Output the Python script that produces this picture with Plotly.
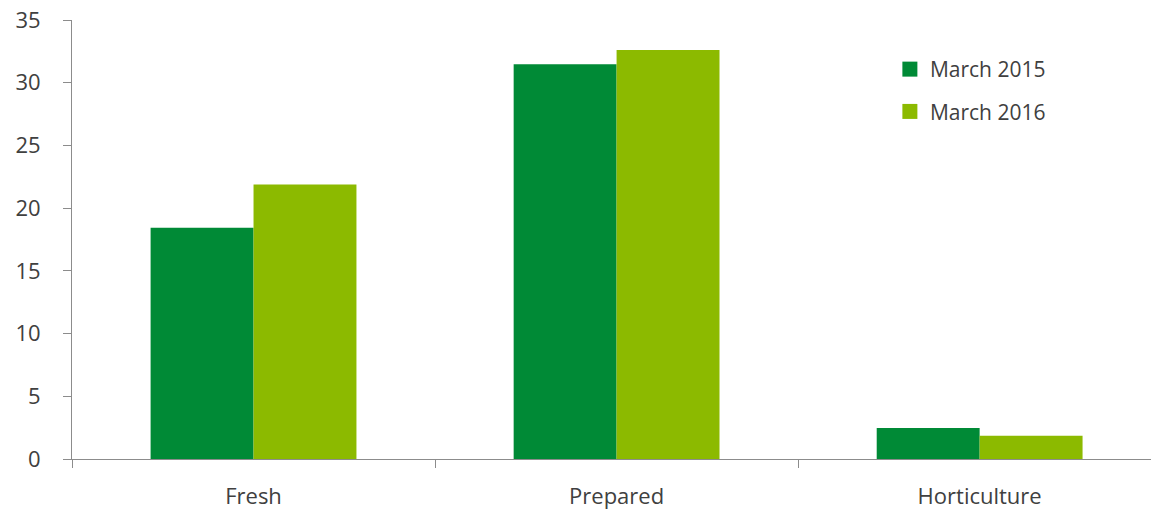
import plotly.graph_objects as go

categories = ["Fresh", "Prepared", "Horticulture"]
series_names = ["March 2015", "March 2016"]
march_2015 = [18.43, 31.47, 2.47]
march_2016 = [21.89, 32.61, 1.86]
y_ticks = [0, 5, 10, 15, 20, 25, 30, 35]

DARK_GREEN = "#008a36"
LIGHT_GREEN = "#8cba00"
AXIS_GREY = "#8c8c8c"
TEXT = "#404040"
FONT = "Open Sans, Noto Sans, sans-serif"

fig = go.Figure()
for name, values, color in zip(series_names, [march_2015, march_2016],
                               [DARK_GREEN, LIGHT_GREEN]):
    fig.add_trace(go.Bar(name=name, x=categories, y=values,
                         marker=dict(color=color, line=dict(width=0)),
                         legendgroup=name, showlegend=False))
    # square swatch for the legend entry
    fig.add_trace(go.Scatter(name=name, x=[None], y=[None], mode="markers",
                             marker=dict(symbol="square", size=15, color=color),
                             legendgroup=name, showlegend=True))

fig.update_layout(
    width=1151, height=510,
    margin=dict(l=72, r=0, t=20, b=51),
    paper_bgcolor="white", plot_bgcolor="white",
    barmode="group", bargap=0.433, bargroupgap=0,
    font=dict(family=FONT, size=22, color=TEXT),
    legend=dict(x=0.758, y=0.934, xanchor="left", yanchor="top",
                bgcolor="rgba(0,0,0,0)", font=dict(size=21, color=TEXT),
                itemwidth=30, tracegroupgap=12),
)
fig.update_xaxes(
    type="category", range=[-0.5, 2.472],
    showline=True, linecolor=AXIS_GREY, linewidth=1,
    ticks="outside", tickson="boundaries", ticklen=8, tickcolor=AXIS_GREY,
    showgrid=False, zeroline=False,
    tickfont=dict(size=22, color=TEXT), ticklabelstandoff=18,
)
fig.update_yaxes(
    range=[0, 35], tickvals=y_ticks,
    showline=True, linecolor=AXIS_GREY, linewidth=1,
    ticks="outside", ticklen=8, tickcolor=AXIS_GREY,
    showgrid=False, zeroline=False,
    tickfont=dict(size=22, color=TEXT), ticklabelstandoff=18,
)

fig.write_html("out.html")
